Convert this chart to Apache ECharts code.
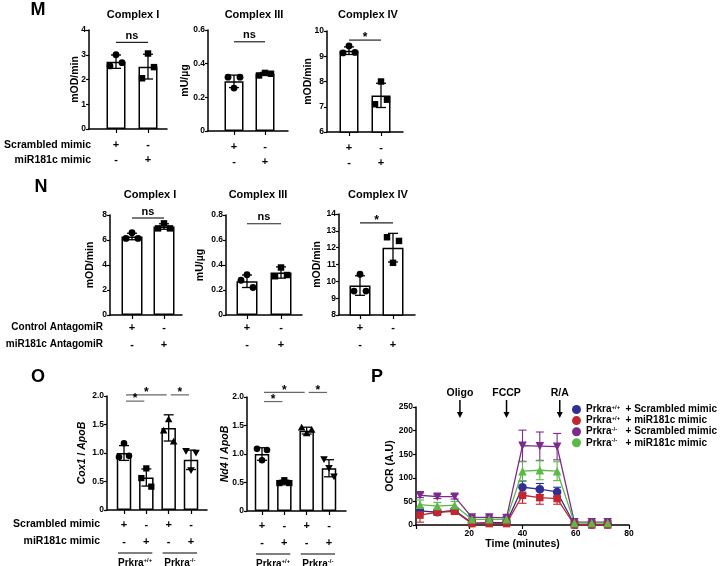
<!DOCTYPE html>
<html><head><meta charset="utf-8">
<script src="https://cdn.jsdelivr.net/npm/echarts@6/dist/echarts.min.js"></script>
<style>html,body{margin:0;padding:0;background:#fff}#c{width:722px;height:566px}</style>
</head><body><div id="c"></div>
<script>
// ================= DATA =================
// Panel M (mimic)
const M_ROWS = ['Scrambled mimic', 'miR181c mimic'];
const M_SIGNS = [['+', '-'], ['-', '+']];
const M_TITLES = ['Complex I', 'Complex III', 'Complex IV'];
const M_YNAMES = ['mOD/min', 'mU/µg', 'mOD/min'];
const mC1Mean = [2.72, 2.52];   const mC1Sd = [0.27, 0.5];
const mC1Pts  = [[2.55, 3.0, 2.68], [2.05, 3.05, 2.5]];
const mC3Mean = [0.295, 0.34];  const mC3Sd = [0.037, 0.008];
const mC3Pts  = [[0.32, 0.255, 0.32], [0.33, 0.345, 0.34]];
const mC4Mean = [9.22, 7.45];   const mC4Sd = [0.15, 0.48];
const mC4Pts  = [[9.13, 9.41, 9.15], [7.1, 8.0, 7.28]];
const mSigLabels = ['ns', 'ns', '*'];
const mSigY = [3.5, 0.53, 9.64];

// Panel N (antagomiR)
const N_ROWS = ['Control AntagomiR', 'miR181c AntagomiR'];
const N_SIGNS = [['+', '-'], ['-', '+']];
const N_TITLES = ['Complex I', 'Complex III', 'Complex IV'];
const N_YNAMES = ['mOD/min', 'mU/µg', 'mOD/min'];
const nC1Mean = [6.28, 7.08];   const nC1Sd = [0.26, 0.22];
const nC1Pts  = [[6.13, 6.59, 6.13], [6.93, 7.33, 6.93]];
const nC3Mean = [0.27, 0.34];   const nC3Sd = [0.05, 0.045];
const nC3Pts  = [[0.278, 0.323, 0.22], [0.31, 0.38, 0.32]];
const nC4Mean = [9.75, 12.0];   const nC4Sd = [0.58, 0.85];
const nC4Pts  = [[9.42, 10.42, 9.42], [12.62, 11.1, 12.4]];
const nSigLabels = ['ns', 'ns', '*'];
const nSigY = [7.76, 0.73, 13.47];

// Panel O (qPCR)
const O_ROWS = ['Scrambled mimic', 'miR181c mimic'];
const O_SIGNS = [['+', '-', '+', '-'], ['-', '+', '-', '+']];
const O_GROUP_GENO = ['+/+', '-/-'];
const O_YTICKS = ['0', '0.5', '1.0', '1.5', '2.0'];
const oCoxMean = [1.0, 0.57, 1.44, 0.88]; const oCoxSd = [0.13, 0.15, 0.23, 0.17];
const oCoxPts  = [[0.93, 1.17, 0.95], [0.56, 0.73, 0.41], [1.39, 1.59, 1.2], [1.04, 0.7, 1.01]];
const oNdMean  = [1.0, 0.5, 1.41, 0.75];  const oNdSd  = [0.11, 0.04, 0.06, 0.15];
const oNdPts   = [[1.09, 0.89, 1.07], [0.49, 0.54, 0.49], [1.46, 1.36, 1.42], [0.91, 0.76, 0.61]];
// significance: [fromBar, toBar, y]
const oCoxSig = [[1, 3, 2.02], [1, 2, 1.91], [3, 4, 2.02]];
const oNdSig  = [[1, 3, 2.08], [1, 2, 1.92], [3, 4, 2.08]];
const oSigLabels = ['*', '*', '*'];

// Panel P (OCR)
const pTime = [1.5, 8, 14.5, 21, 27.5, 34, 40, 46.5, 53, 59.5, 66, 72];
const pGeno = ['+/+', '+/+', '-/-', '-/-'];
const pTreat = ['Scrambled mimic', 'miR181c mimic', 'Scrambled mimic', 'miR181c mimic'];
const pBlue   = [30, 27, 31, 4, 5, 5, 80, 76, 70, 1, 1, 1];
const pBlueE  = [6, 4, 4, 3, 3, 3, 13, 12, 10, 2, 2, 2];
const pRed    = [21, 27, 29, 3, 3, 3, 63, 58, 56, 0, 0, 0];
const pRedE   = [15, 5, 5, 2, 2, 2, 17, 14, 12, 2, 2, 2];
const pPurple = [63, 60, 60, 16, 16, 15, 168, 167, 166, 6, 6, 6];
const pPurpleE= [5, 4, 5, 3, 3, 3, 33, 30, 28, 3, 3, 3];
const pGreen  = [43, 40, 42, 12, 12, 12, 114, 116, 114, 4, 4, 4];
const pGreenE = [10, 8, 8, 3, 3, 3, 20, 20, 20, 3, 3, 3];
const pArrowT = [16.5, 34, 54];
const pArrowLabels = ['Oligo', 'FCCP', 'R/A'];

// ================= STYLE / LAYOUT =================
const FONT = "'Liberation Sans', Arial, Helvetica, sans-serif";
const P_COLORS = ['#2E3192', '#C1272D', '#7B2C8B', '#5BB947'];
const P_SYMBOLS = ['circle', 'rect', 'path://M0,0 L10,0 L5,9 Z', 'triangle'];
const JIT = [-5, 0, 5];

const option = {
  animation: false, backgroundColor: '#fff',
  grid: [], xAxis: [], yAxis: [], series: [], graphic: []
};

function markerShape(type, x, y, s) {
  const st = { fill: '#000' };
  if (type === 'circle') return { type: 'circle', shape: { cx: x, cy: y, r: s }, style: st };
  if (type === 'rect') return { type: 'rect', shape: { x: x - s * 0.95, y: y - s * 0.95, width: 1.9 * s, height: 1.9 * s }, style: st };
  if (type === 'tri') return { type: 'polygon', shape: { points: [[x, y - s * 1.2], [x - s * 1.15, y + s * 0.85], [x + s * 1.15, y + s * 0.85]] }, style: st };
  return { type: 'polygon', shape: { points: [[x, y + s * 1.2], [x - s * 1.15, y - s * 0.85], [x + s * 1.15, y - s * 0.85]] }, style: st };
}

function axisText(size) {
  return { fontFamily: FONT, fontWeight: 'bold', fontSize: size, color: '#000' };
}

function addBarPanel(c) {
  const gi = option.grid.length;
  const n = c.means.length;
  const L = c.lay;
  const scale = (L.cLast - L.cFirst) / (n - 1);
  const xmin = 1 - (L.cFirst - L.L) / scale;
  const xmax = xmin + (L.R - L.L) / scale;
  option.grid.push({ left: L.L, top: L.top, width: L.R - L.L, height: L.bottom - L.top });
  const idx = c.means.map((_, i) => i + 1);
  option.xAxis.push({
    type: 'value', gridIndex: gi, min: xmin, max: xmax,
    splitLine: { show: false },
    axisLine: { show: true, onZero: false, lineStyle: { color: '#000', width: 1.5 } },
    axisTick: { show: true, customValues: idx, length: 4, lineStyle: { color: '#000', width: 1.2 } },
    axisLabel: Object.assign(axisText(11), {
      customValues: idx, lineHeight: c.lh, margin: c.lm,
      formatter: v => c.signs.map(r => r[Math.round(v) - 1]).join('\n')
    })
  });
  option.yAxis.push({
    type: 'value', gridIndex: gi, min: c.y[0], max: c.y[1], interval: c.y[2],
    splitLine: { show: false },
    axisLine: { show: true, onZero: false, lineStyle: { color: '#000', width: 1.5 } },
    axisTick: { show: true, length: 3, lineStyle: { color: '#000', width: 1.2 } },
    axisLabel: Object.assign(axisText(8.5), { margin: 3,
      formatter: (v, i) => c.yTicks ? c.yTicks[i] : String(+v.toFixed(2)) }),
    name: c.yName, nameLocation: 'middle', nameRotate: 90, nameGap: c.nameGap, nameMoveOverlap: false,
    nameTextStyle: Object.assign(axisText(10.5), c.yRich ? { rich: c.yRich } : {})
  });
  // bars
  option.series.push({
    type: 'bar', xAxisIndex: gi, yAxisIndex: gi, barWidth: c.barW, silent: true,
    data: c.means.map((m, i) => [i + 1, m]),
    itemStyle: { color: '#fff', borderColor: '#000', borderWidth: 1.5 }, z: 2
  });
  // error bars
  option.series.push({
    type: 'custom', xAxisIndex: gi, yAxisIndex: gi, z: 3, silent: true,
    data: c.means.map((m, i) => [i + 1, m - c.sds[i], m + c.sds[i]]),
    encode: { x: 0, y: [1, 2] },
    renderItem: (params, api) => {
      const lo = api.coord([api.value(0), api.value(1)]);
      const hi = api.coord([api.value(0), api.value(2)]);
      const w = c.cap, ls = { stroke: '#000', lineWidth: 1.3 };
      return { type: 'group', children: [
        { type: 'line', shape: { x1: lo[0], y1: lo[1], x2: hi[0], y2: hi[1] }, style: ls },
        { type: 'line', shape: { x1: hi[0] - w, y1: hi[1], x2: hi[0] + w, y2: hi[1] }, style: ls },
        { type: 'line', shape: { x1: lo[0] - w, y1: lo[1], x2: lo[0] + w, y2: lo[1] }, style: ls }
      ] };
    }
  });
  // points
  const pts = [];
  c.pts.forEach((arr, i) => arr.forEach((v, k) => pts.push([i + 1, v, k])));
  option.series.push({
    type: 'custom', xAxisIndex: gi, yAxisIndex: gi, z: 4, silent: true,
    data: pts, encode: { x: 0, y: 1 },
    renderItem: (params, api) => {
      const p = api.coord([api.value(0), api.value(1)]);
      const k = api.value(2);
      return markerShape(c.markers[api.value(0) - 1], p[0] + JIT[k] * c.jit, p[1], c.ptS);
    }
  });
  // significance
  option.series.push({
    type: 'custom', xAxisIndex: gi, yAxisIndex: gi, z: 5, silent: true,
    data: c.sig, encode: { x: [0, 1], y: 2 },
    renderItem: (params, api) => {
      const a = api.coord([api.value(0), api.value(2)]);
      const b = api.coord([api.value(1), api.value(2)]);
      const lab = c.sigLabels[params.dataIndex];
      const isStar = lab === '*';
      return { type: 'group', children: [
        { type: 'line', shape: { x1: a[0] + c.sigInset[0], y1: a[1], x2: b[0] + c.sigInset[1], y2: b[1] }, style: { stroke: c.sigColor, lineWidth: 1.2 } },
        { type: 'text', x: (a[0] + b[0]) / 2 + (c.sigInset[0] + c.sigInset[1]) / 2, y: a[1] - (isStar ? 2 : 6.5),
          style: { text: lab, align: 'center', verticalAlign: 'middle', font: 'bold ' + (isStar ? 12 : 11) + 'px ' + FONT, fill: '#000' } }
      ] };
    }
  });
  return gi;
}

// ---- Panel M ----
const mLayouts = [
  { L: 89, R: 167, top: 30, bottom: 129, cFirst: 116, cLast: 148 },
  { L: 208, R: 288, top: 30, bottom: 131, cFirst: 234, cLast: 265 },
  { L: 327, R: 403, top: 31, bottom: 132, cFirst: 349, cLast: 381 }
];
const mYR = [[0, 4, 1], [0, 0.6, 0.2], [6, 10, 1]];
const mData = [[mC1Mean, mC1Sd, mC1Pts], [mC3Mean, mC3Sd, mC3Pts], [mC4Mean, mC4Sd, mC4Pts]];
const mGaps = [8, 17, 13];
mData.forEach((d, j) => addBarPanel({
  lay: mLayouts[j], means: d[0], sds: d[1], pts: d[2], markers: ['circle', 'rect'],
  signs: M_SIGNS, y: mYR[j], yName: M_YNAMES[j], nameGap: mGaps[j],
  sig: [[1, 2, mSigY[j]]], sigLabels: [mSigLabels[j]], sigInset: [0, 0], sigColor: '#222',
  barW: 19, cap: 5, ptS: 3.4, jit: 1.2, lh: 15, lm: 8
}));

// ---- Panel N ----
const nLayouts = [
  { L: 110, R: 182, top: 215, bottom: 315, cFirst: 132, cLast: 164 },
  { L: 226, R: 302, top: 215, bottom: 315, cFirst: 247, cLast: 281 },
  { L: 339, R: 415, top: 214, bottom: 315, cFirst: 360, cLast: 393 }
];
const nYR = [[0, 8, 2], [0, 0.8, 0.2], [8, 14, 1]];
const nData = [[nC1Mean, nC1Sd, nC1Pts], [nC3Mean, nC3Sd, nC3Pts], [nC4Mean, nC4Sd, nC4Pts]];
const nGaps = [14, 20, 16];
nData.forEach((d, j) => addBarPanel({
  lay: nLayouts[j], means: d[0], sds: d[1], pts: d[2], markers: ['circle', 'rect'],
  signs: N_SIGNS, y: nYR[j], yName: N_YNAMES[j], nameGap: nGaps[j],
  sig: [[1, 2, nSigY[j]]], sigLabels: [nSigLabels[j]], sigInset: [0, 0], sigColor: '#222',
  barW: 21, cap: 5, ptS: 3.4, jit: 1.2, lh: 17, lm: 4
}));

// ---- Panel O ----
const oLayouts = [
  { L: 107, R: 207, top: 396, bottom: 510, cFirst: 124, cLast: 191 },
  { L: 247, R: 346, top: 397, bottom: 511, cFirst: 262, cLast: 329 }
];
const oRich = { i: Object.assign(axisText(10.5), { fontStyle: 'italic' }), n: axisText(10.5) };
const oNames = ['{i|Cox1} {n|/} {i|ApoB}', '{i|Nd4} {n|/} {i|ApoB}'];
const oData = [[oCoxMean, oCoxSd, oCoxPts, oCoxSig], [oNdMean, oNdSd, oNdPts, oNdSig]];
const oGaps = [19, 16];
const oGrids = oData.map((d, j) => addBarPanel({
  lay: oLayouts[j], means: d[0], sds: d[1], pts: d[2], markers: ['circle', 'rect', 'tri', 'itri'],
  signs: O_SIGNS, y: [0, 2, 0.5], yTicks: O_YTICKS, yName: oNames[j], yRich: oRich, nameGap: oGaps[j],
  sig: d[3], sigLabels: oSigLabels, sigInset: [2, -2], sigColor: '#666',
  barW: 14.5, cap: 5, ptS: 3.3, jit: 1.0, lh: 17.5, lm: 6
}));
// genotype group lines under O panels
oGrids.forEach(gi => {
  option.series.push({
    type: 'custom', xAxisIndex: gi, yAxisIndex: gi, silent: true, z: 5,
    data: [[1, 2, 0], [3, 4, 0]], encode: { x: [0, 1], y: 2 },
    renderItem: (params, api) => {
      const a = api.coord([api.value(0), 0]);
      const b = api.coord([api.value(1), 0]);
      const y = a[1] + 43;
      return { type: 'group', children: [
        { type: 'line', shape: { x1: a[0] - 6, y1: y, x2: b[0] + 6, y2: y }, style: { stroke: '#000', lineWidth: 1 } },
        { type: 'text', x: (a[0] + b[0]) / 2, y: y + 10,
          style: { text: '{a|Prkra}{s|' + O_GROUP_GENO[params.dataIndex] + '}', align: 'center', verticalAlign: 'middle',
            rich: { a: { font: 'bold 10px ' + FONT, fill: '#000', lineHeight: 12 },
                    s: { font: 'bold 6px ' + FONT, fill: '#000', verticalAlign: 'top', lineHeight: 7 } } } }
      ] };
    }
  });
});

// ---- Panel P ----
const pg = option.grid.length;
option.grid.push({ left: 416, top: 407, width: 213, height: 118 });
option.xAxis.push({
  type: 'value', gridIndex: pg, min: 0, max: 80, interval: 20, splitLine: { show: false },
  axisLine: { show: true, onZero: false, lineStyle: { color: '#000', width: 1.5 } },
  axisTick: { show: true, length: 4, lineStyle: { color: '#000', width: 1.2 } },
  axisLabel: Object.assign(axisText(8.5), { margin: 4, formatter: v => v === 0 ? '' : String(v) }),
  name: 'Time (minutes)', nameLocation: 'middle', nameGap: 14, nameMoveOverlap: false, nameTextStyle: axisText(10.5)
});
option.yAxis.push({
  type: 'value', gridIndex: pg, min: 0, max: 250, interval: 50, splitLine: { show: false },
  axisLine: { show: true, onZero: false, lineStyle: { color: '#000', width: 1.5 } },
  axisTick: { show: true, length: 3, lineStyle: { color: '#000', width: 1.2 } },
  axisLabel: Object.assign(axisText(8.5), { margin: 3 }),
  name: 'OCR (A.U)', nameLocation: 'middle', nameRotate: 90, nameGap: 20, nameMoveOverlap: false, nameTextStyle: axisText(10.5)
});
const pVals = [pBlue, pRed, pPurple, pGreen];
const pErrs = [pBlueE, pRedE, pPurpleE, pGreenE];
const pNames = pGeno.map((g, i) => 'Prkra' + g + ' + ' + pTreat[i]);
pVals.forEach((vals, s) => {
  const col = P_COLORS[s];
  option.series.push({
    type: 'custom', xAxisIndex: pg, yAxisIndex: pg, silent: true, z: 3,
    data: pTime.map((t, i) => [t, vals[i] - pErrs[s][i], vals[i] + pErrs[s][i]]),
    encode: { x: 0, y: [1, 2] },
    renderItem: (params, api) => {
      const lo = api.coord([api.value(0), api.value(1)]);
      const hi = api.coord([api.value(0), api.value(2)]);
      const ls = { stroke: col, lineWidth: 1.1 };
      return { type: 'group', children: [
        { type: 'line', shape: { x1: lo[0], y1: lo[1], x2: hi[0], y2: hi[1] }, style: ls },
        { type: 'line', shape: { x1: hi[0] - 4, y1: hi[1], x2: hi[0] + 4, y2: hi[1] }, style: ls },
        { type: 'line', shape: { x1: lo[0] - 4, y1: lo[1], x2: lo[0] + 4, y2: lo[1] }, style: ls }
      ] };
    }
  });
});
pVals.forEach((vals, s) => {
  option.series.push({
    type: 'line', name: pNames[s], xAxisIndex: pg, yAxisIndex: pg, z: 4,
    data: pTime.map((t, i) => [t, vals[i]]),
    symbol: P_SYMBOLS[s], symbolSize: s === 1 ? 7.5 : 8.5, showSymbol: true,
    lineStyle: { color: P_COLORS[s], width: 1.3 },
    itemStyle: { color: P_COLORS[s], borderWidth: 0 }
  });
});
// injection arrows
option.series.push({
  type: 'custom', xAxisIndex: pg, yAxisIndex: pg, silent: true, z: 5,
  data: pArrowT.map(t => [t, 250]), encode: { x: 0, y: 1 },
  renderItem: (params, api) => {
    const p = api.coord([api.value(0), api.value(1)]);
    const x = p[0], top = p[1];
    return { type: 'group', children: [
      { type: 'text', x: x, y: top - 14, style: { text: pArrowLabels[params.dataIndex], align: 'center', verticalAlign: 'middle', font: 'bold 10.5px ' + FONT, fill: '#000' } },
      { type: 'line', shape: { x1: x, y1: top - 7, x2: x, y2: top + 7 }, style: { stroke: '#000', lineWidth: 1.5 } },
      { type: 'polygon', shape: { points: [[x - 3, top + 5], [x + 3, top + 5], [x, top + 11]] }, style: { fill: '#000' } }
    ] };
  }
});
option.legend = {
  orient: 'vertical', left: 567, top: 399, itemWidth: 9, itemHeight: 9, itemGap: 0.6,
  icon: 'circle', selectedMode: false, data: pNames,
  formatter: name => {
    const i = pNames.indexOf(name);
    return '{a|Prkra}{s|' + pGeno[i] + '}{b|+ ' + pTreat[i] + '}';
  },
  textStyle: {
    fontFamily: FONT, fontWeight: 'bold', fontSize: 10, color: '#000',
    rich: {
      a: { fontFamily: FONT, fontWeight: 'bold', fontSize: 10, color: '#000', lineHeight: 11 },
      s: { fontFamily: FONT, fontWeight: 'bold', fontSize: 6, color: '#000', verticalAlign: 'top', lineHeight: 7, width: 14 },
      b: { fontFamily: FONT, fontWeight: 'bold', fontSize: 10, color: '#000', lineHeight: 11 }
    }
  }
};

// ---- Text annotations ----
function txt(x, y, s, font, align) {
  option.graphic.push({ type: 'text', x: x, y: y, silent: true,
    style: { text: s, font: font, fill: '#000', align: align || 'center', verticalAlign: 'middle' } });
}
const LETTER = 'bold 18px ' + FONT;
txt(38, 10, 'M', LETTER); txt(41, 187, 'N', LETTER); txt(38, 377, 'O', LETTER); txt(377, 377, 'P', LETTER);
const TITLE = 'bold 11px ' + FONT;
[133, 254, 368].forEach((x, j) => txt(x, 15, M_TITLES[j], TITLE));
[150, 258, 378].forEach((x, j) => txt(x, 195, N_TITLES[j], TITLE));
const ROW = 'bold 10.5px ' + FONT;
M_ROWS.forEach((s, r) => txt(91, 145 + r * 15, s, ROW, 'right'));
N_ROWS.forEach((s, r) => txt(103, 327 + r * 17, s, 'bold 10px ' + FONT, 'right'));
O_ROWS.forEach((s, r) => txt(100, 524 + r * 17.5, s, ROW, 'right'));

const chart = echarts.init(document.getElementById('c'), null, { renderer: 'canvas' });
chart.setOption(option);
</script>
</body></html>
